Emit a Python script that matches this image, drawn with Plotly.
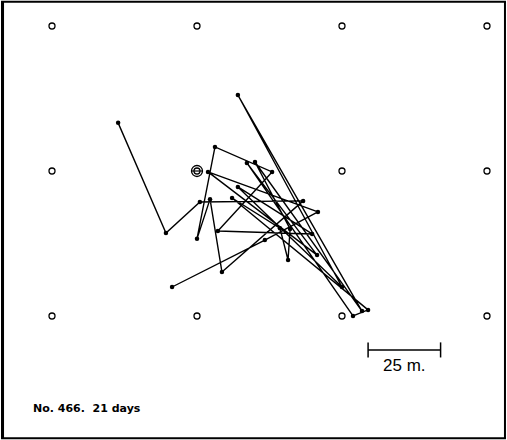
import plotly.graph_objects as go

# Trap stations (m)
station_x = [0, 50, 100, 150, 0, 50, 100, 150, 0, 50, 100, 150]
station_y = [100, 100, 100, 100, 50, 50, 50, 50, 0, 0, 0, 0]
home_x = [50]
home_y = [50]

# Sequence of capture locations (m)
path_x = [22.8, 39.3, 51.0, 86.6, 58.6, 54.5, 50.0, 56.2, 75.9, 57.2, 89.7, 64.1, 100.0, 64.1,
          106.9, 70.0, 82.1, 81.4, 78.6, 62.1, 109.0, 103.8, 67.2, 91.4, 53.8, 91.7, 73.4, 41.4]
path_y = [66.6, 28.6, 39.3, 39.7, 15.2, 40.3, 26.6, 58.3, 49.7, 29.3, 28.3, 44.5, 10.0, 76.2,
          1.7, 53.1, 30.0, 19.3, 30.3, 40.7, 2.1, 0.0, 52.8, 21.0, 49.7, 35.9, 26.2, 10.0]

scale_x = [109, 134]
scale_y = -11.7
scale_label = "25 m."
caption = "No. 466.  21 days"

fig = go.Figure()
fig.add_trace(go.Scatter(x=path_x, y=path_y, mode="lines+markers",
                         line=dict(color="black", width=1.4),
                         marker=dict(color="black", size=4.5), hoverinfo="skip"))
fig.add_trace(go.Scatter(x=station_x, y=station_y, mode="markers",
                         marker=dict(symbol="circle-open", color="black", size=6,
                                     line=dict(width=1.3)), hoverinfo="skip"))
fig.add_trace(go.Scatter(x=home_x, y=home_y, mode="markers",
                         marker=dict(symbol="circle-open", color="black", size=11,
                                     line=dict(width=1.3)), hoverinfo="skip"))
fig.add_trace(go.Scatter(x=home_x, y=home_y, mode="markers",
                         marker=dict(symbol="line-ew-open", color="black", size=8,
                                     line=dict(width=1.2)), hoverinfo="skip"))
# scale bar
fig.add_trace(go.Scatter(x=scale_x, y=[scale_y, scale_y], mode="lines",
                         line=dict(color="black", width=1.5), hoverinfo="skip"))
for sx in scale_x:
    fig.add_trace(go.Scatter(x=[sx, sx], y=[scale_y - 2.6, scale_y + 2.6], mode="lines",
                             line=dict(color="black", width=1.5), hoverinfo="skip"))
fig.add_annotation(x=sum(scale_x) / 2, y=scale_y - 5.5, text=scale_label, showarrow=False,
                   font=dict(family="Liberation Sans", size=17, color="black"))
fig.add_annotation(xref="paper", yref="paper", x=31 / 507, y=1 - 408 / 440, xanchor="left",
                   yanchor="middle", text="<b>" + caption + "</b>", showarrow=False,
                   font=dict(family="DejaVu Sans", size=11, color="black"))

fig.add_shape(type="rect", xref="paper", yref="paper", x0=0.004, y0=0.004, x1=0.996, y1=0.996,
              line=dict(color="black", width=2))
fig.add_shape(type="line", xref="paper", yref="paper", x0=0.005, y0=0.004, x1=0.005, y1=0.996,
              line=dict(color="black", width=3))

fig.update_layout(width=507, height=440, margin=dict(l=0, r=0, t=0, b=0),
                  plot_bgcolor="white", paper_bgcolor="white", showlegend=False,
                  xaxis=dict(range=[-17.93, 156.9], visible=False, fixedrange=True),
                  yaxis=dict(range=[-42.76, 108.97], visible=False, fixedrange=True))
fig.write_html("out.html", config={"displayModeBar": False},
               post_script="document.body.style.margin='0';document.body.style.overflow='hidden';")
